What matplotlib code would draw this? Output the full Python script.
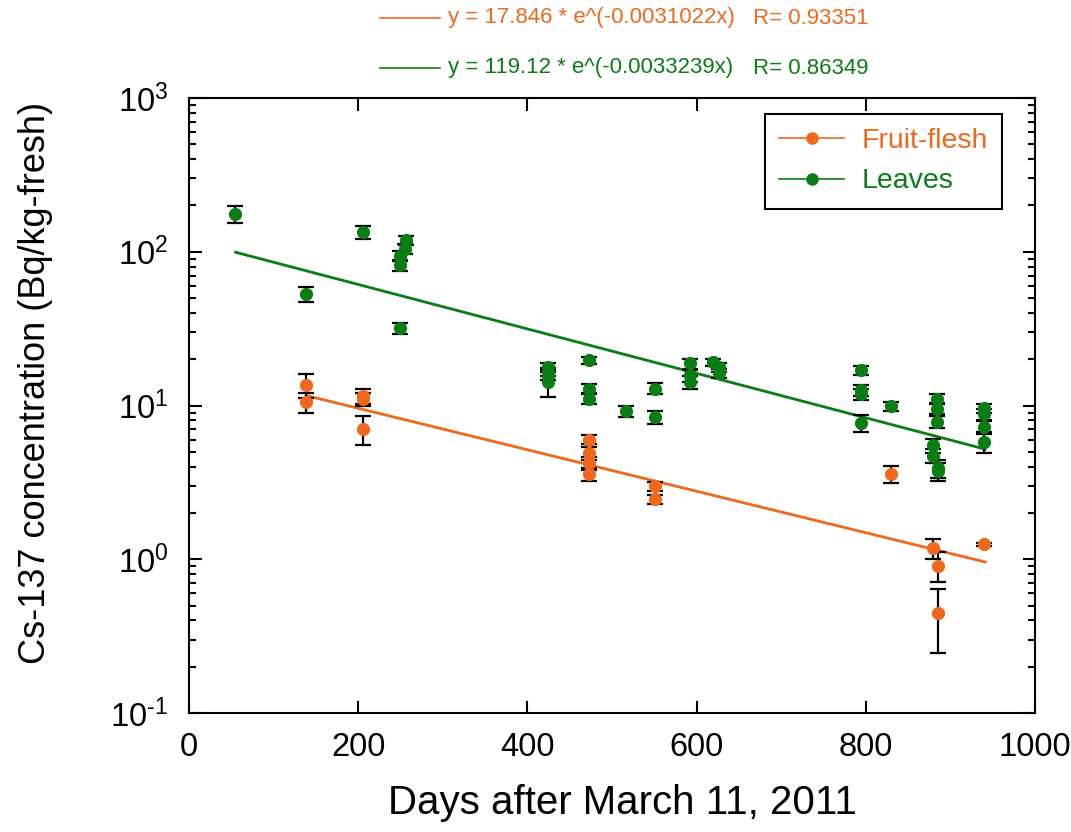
import numpy as np
import matplotlib.pyplot as plt
from matplotlib.lines import Line2D
from matplotlib.ticker import FuncFormatter

plt.rcParams['font.family'] = ['Liberation Sans', 'DejaVu Sans']
plt.rcParams['mathtext.fontset'] = 'custom'
plt.rcParams['mathtext.rm'] = 'Liberation Sans'
plt.rcParams['mathtext.default'] = 'regular'

ORANGE = '#f0681c'
GREEN = '#0a7d14'

# Fruit-flesh
fruit_days = [138, 138, 206, 206, 206, 473, 473, 473, 473, 551, 551, 830, 879, 885, 885, 940]
fruit_vals = [13.6, 10.5, 11.6, 11.0, 7.0, 6.0, 4.9, 4.2, 3.6, 2.98, 2.45, 3.6, 1.18, 0.91, 0.445, 1.25]
fruit_err = [2.4, 1.6, 1.3, 1.0, 1.5, 0.4, 0.5, 0.4, 0.35, 0.18, 0.15, 0.45, 0.17, 0.2, 0.2, 0.03]

# Leaves
leaf_days = [54, 138, 206, 249, 249, 249, 255, 257, 424, 424, 424, 424, 473, 473, 473, 517,
             551, 551, 592, 592, 592, 619, 626, 626, 794, 794, 794, 794, 830, 884, 884, 884,
             879, 879, 885, 885, 940, 940, 940, 940]
leaf_vals = [175, 53, 134, 31.8, 82, 93.5, 104, 119, 17.8, 16.5, 15.6, 14.2, 19.7, 12.9, 11.1, 9.2,
             12.9, 8.4, 18.8, 15.7, 14.2, 19.1, 17.7, 16.2, 17.0, 12.6, 11.8, 7.7, 9.9, 11.1, 9.5, 7.8,
             5.5, 4.7, 3.9, 3.74, 9.6, 8.8, 7.2, 5.8]
leaf_err = [22, 6, 13, 2.5, 7, 7, 8, 8, 1.0, 1.0, 1.0, 2.9, 1.0, 1.0, 0.9, 0.75,
            1.1, 0.8, 1.4, 1.4, 1.4, 1.0, 1.1, 1.1, 1.1, 1.0, 1.0, 1.0, 0.7, 0.7, 0.7, 0.7,
            0.6, 0.5, 0.5, 0.5, 0.7, 0.7, 0.7, 0.9]

# exponential fit lines (end points, straight on log axis)
fruit_fit_x = [140, 941]
fruit_fit_y = [11.56, 0.96]
leaf_fit_x = [55, 941]
leaf_fit_y = [99.3, 5.2]

fruit_eq = 'y = 17.846 * e^(-0.0031022x)'
fruit_r = 'R= 0.93351'
leaf_eq = 'y = 119.12 * e^(-0.0033239x)'
leaf_r = 'R= 0.86349'

fig = plt.figure(figsize=(10.71, 8.32), dpi=100)
ax = fig.add_axes([0.1765, 0.143, 0.79, 0.7392])

ax.plot(leaf_fit_x, leaf_fit_y, color=GREEN, lw=2, zorder=2)
ax.plot(fruit_fit_x, fruit_fit_y, color=ORANGE, lw=2, zorder=2)

for d, v, e, c in [(leaf_days, leaf_vals, leaf_err, GREEN), (fruit_days, fruit_vals, fruit_err, ORANGE)]:
    ax.errorbar(d, v, yerr=e, fmt='none', ecolor='black', elinewidth=1.6,
                capsize=6, capthick=1.6, zorder=3)
    ax.plot(d, v, 'o', color=c, ms=9.5, mec='none', zorder=4)

ax.set_yscale('log')
ax.set_xlim(0, 1000)
ax.set_ylim(0.1, 1000)
ax.set_xticks([0, 200, 400, 600, 800, 1000])

def pow10(v, pos):
    p = int(round(np.log10(v)))
    s = str(p).replace('-', '\u2010')
    return '$10^{%s}$' % s

ax.yaxis.set_major_formatter(FuncFormatter(pow10))

for s in ax.spines.values():
    s.set_linewidth(1.5)
ax.tick_params(which='both', direction='in', top=True, right=True, width=1.5, labelsize=23.5)
ax.tick_params(which='major', length=9)
ax.tick_params(which='minor', length=5)
ax.tick_params(axis='x', pad=14)
ax.tick_params(axis='y', pad=15)
ax.tick_params(axis='x', which='minor', bottom=False, top=False)

ax.set_xlabel('Days after March 11, 2011', fontsize=29)
ax.set_ylabel('Cs-137 concentration (Bq/kg-fresh)', fontsize=26)
ax.xaxis.set_label_coords(0.512, -0.115)
ax.yaxis.set_label_coords(-0.161, 0.537)

handles = [Line2D([], [], color=ORANGE, lw=1.2, marker='o', ms=8),
           Line2D([], [], color=GREEN, lw=1.2, marker='o', ms=8)]
leg = ax.legend(handles, ['Fruit-flesh', 'Leaves'], loc='upper right',
                bbox_to_anchor=(0.961, 0.974), borderaxespad=0, fontsize=20.5,
                fancybox=False, framealpha=1, edgecolor='black', handlelength=2.3,
                handletextpad=0.6, borderpad=0.5, labelspacing=0.5)
leg.get_frame().set_linewidth(1.5)
for t, c in zip(leg.get_texts(), [ORANGE, GREEN]):
    t.set_color(c)

# fit equations above the plot
for yy, c, eq, r in [(18, ORANGE, fruit_eq, fruit_r), (68, GREEN, leaf_eq, leaf_r)]:
    fy = 1 - yy / 832
    fig.add_artist(Line2D([380 / 1071, 440 / 1071], [fy, fy], color=c, lw=1.2))
    fig.text(448 / 1071, fy, eq, color=c, fontsize=16, va='center')
    fig.text(753 / 1071, fy, r, color=c, fontsize=16, va='center')

fig.savefig('out.png', dpi=100)
